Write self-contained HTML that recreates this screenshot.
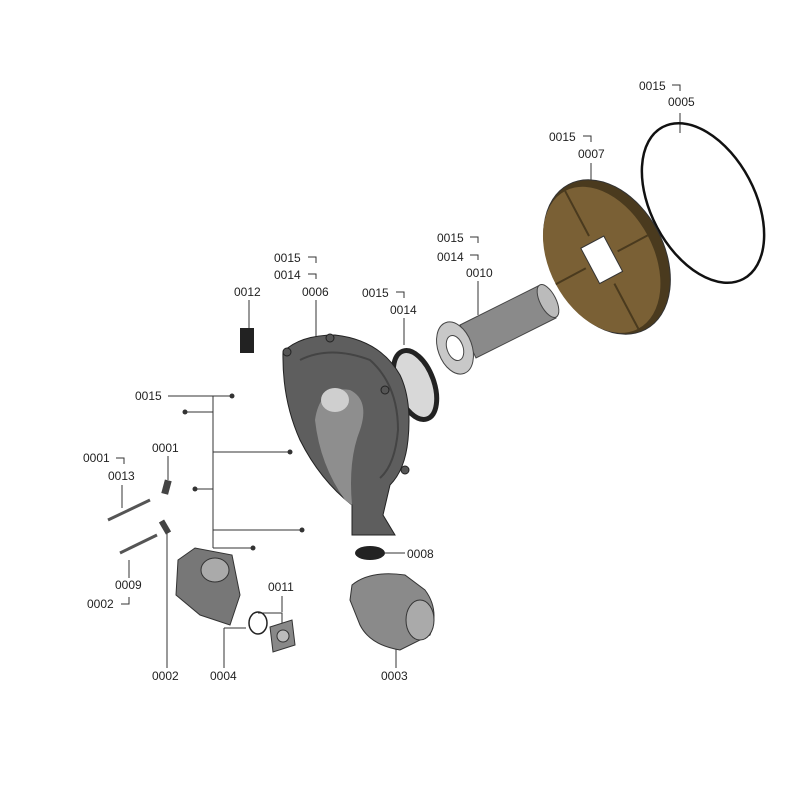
<!DOCTYPE html>
<html><head><meta charset="utf-8"><style>
html,body{margin:0;padding:0;background:#fff;width:800px;height:800px;overflow:hidden}
svg{display:block}
text{font-family:"Liberation Sans",sans-serif;font-size:12px;fill:#222}
</style></head><body>
<svg width="800" height="800" viewBox="0 0 800 800" xmlns="http://www.w3.org/2000/svg">
<g stroke="#333" stroke-width="1" fill="none">
<line x1="680" y1="113" x2="680" y2="133"/>
<polyline points="672,85 680,85 680,91"/>
<polyline points="583,136 591,136 591,142"/><line x1="591" y1="163" x2="591" y2="187"/>
<polyline points="470,237 478,237 478,243"/><polyline points="470,255 478,255 478,260"/><line x1="478" y1="281" x2="478" y2="315"/>
<polyline points="308,257 316,257 316,263"/><polyline points="308,274 316,274 316,279"/><line x1="316" y1="300" x2="316" y2="345"/>
<polyline points="396,292 404,292 404,298"/><line x1="404" y1="318" x2="404" y2="345"/>
<line x1="249" y1="300" x2="249" y2="328"/>
<line x1="168" y1="396" x2="232" y2="396"/>
<line x1="213" y1="396" x2="213" y2="548"/>
<line x1="185" y1="412" x2="213" y2="412"/>
<line x1="213" y1="452" x2="290" y2="452"/>
<line x1="195" y1="489" x2="213" y2="489"/>
<line x1="213" y1="530" x2="302" y2="530"/>
<line x1="213" y1="548" x2="253" y2="548"/>
<line x1="168" y1="456" x2="168" y2="480"/>
<polyline points="116,458 124,458 124,464"/><line x1="122" y1="485" x2="122" y2="508"/>
<line x1="129" y1="560" x2="129" y2="578"/><polyline points="121,604 129,604 129,597"/>
<line x1="167" y1="530" x2="167" y2="668"/>
<polyline points="224,628 224,668"/><polyline points="224,628 246,628"/>
<line x1="282" y1="596" x2="282" y2="612"/><polyline points="258,613 282,613 282,625"/>
<line x1="385" y1="553" x2="405" y2="553"/>
<line x1="396" y1="640" x2="396" y2="668"/>
</g>

<ellipse cx="703" cy="203" rx="52" ry="86" transform="rotate(-28 703 203)" fill="none" stroke="#111" stroke-width="2.5"/>
<g transform="rotate(-28 607 257)">
<ellipse cx="607" cy="257" rx="57" ry="82" fill="#4a3a1e" stroke="#333"/>
<ellipse cx="601" cy="257" rx="52" ry="78" fill="#7a6035"/>
<g stroke="#4a3a1e" stroke-width="2">
<line x1="601" y1="179" x2="601" y2="230"/><line x1="601" y1="284" x2="601" y2="335"/>
<line x1="549" y1="257" x2="583" y2="257"/><line x1="619" y1="257" x2="653" y2="257"/>
</g>
<rect x="588" y="237" width="26" height="40" fill="#fff" stroke="#333"/>
</g>
<polygon points="460,325 540,285 556,318 476,358" fill="#8a8a8a" stroke="#444"/>
<ellipse cx="548" cy="301" rx="8" ry="18" transform="rotate(-27 548 301)" fill="#bbb" stroke="#444"/>
<ellipse cx="455" cy="348" rx="17" ry="27" transform="rotate(-20 455 348)" fill="#c8c8c8" stroke="#444"/>
<ellipse cx="455" cy="348" rx="8" ry="13" transform="rotate(-20 455 348)" fill="#fff" stroke="#444"/>
<ellipse cx="415" cy="385" rx="19" ry="36" transform="rotate(-20 415 385)" fill="#d8d8d8" stroke="#222" stroke-width="5"/>
<!-- 0006 housing -->
<path d="M283,352 Q300,335 335,335 Q380,340 400,375 Q412,400 408,440 Q405,470 390,485 L383,515 L395,535 L352,535 L352,505 Q320,480 300,440 Q282,400 283,352 Z" fill="#5e5e5e" stroke="#222"/>
<path d="M300,360 Q330,345 370,360 Q398,385 398,430 Q395,465 380,478" fill="none" stroke="#444" stroke-width="2"/>
<path d="M315,420 Q320,385 350,390 Q370,400 360,430 Q348,460 352,505 L345,500 Q320,465 315,420 Z" fill="#8e8e8e"/>
<ellipse cx="335" cy="400" rx="14" ry="12" fill="#cfcfcf"/>
<g fill="#555" stroke="#222"><circle cx="287" cy="352" r="4"/><circle cx="330" cy="338" r="4"/><circle cx="385" cy="390" r="4"/><circle cx="405" cy="470" r="4"/></g>
<rect x="240" y="328" width="14" height="25" fill="#222"/>
<ellipse cx="370" cy="553" rx="15" ry="7" fill="#222"/>
<path d="M352,585 Q370,570 405,575 L425,590 Q440,610 430,635 L400,650 Q370,645 360,625 L350,600 Z" fill="#8a8a8a" stroke="#333"/>
<ellipse cx="420" cy="620" rx="14" ry="20" fill="#aaa" stroke="#333"/>
<path d="M178,560 L195,548 L232,555 L240,595 L230,625 L200,615 L176,595 Z" fill="#777" stroke="#333"/>
<ellipse cx="215" cy="570" rx="14" ry="12" fill="#aaa" stroke="#333"/>
<ellipse cx="258" cy="623" rx="9" ry="11" fill="none" stroke="#222" stroke-width="1.5"/>
<polygon points="270,627 292,620 295,645 273,652" fill="#888" stroke="#333"/>
<circle cx="283" cy="636" r="6" fill="#bbb" stroke="#333"/>
<g stroke="#555" stroke-width="3" fill="none">
<line x1="108" y1="520" x2="150" y2="500"/>
<line x1="120" y1="553" x2="157" y2="535"/>
</g>
<rect x="163" y="480" width="7" height="14" fill="#444" transform="rotate(15 166 487)"/>
<rect x="162" y="520" width="6" height="14" fill="#444" transform="rotate(-30 165 527)"/>
<g fill="#333">
<circle cx="232" cy="396" r="2.5"/><circle cx="185" cy="412" r="2.5"/><circle cx="290" cy="452" r="2.5"/>
<circle cx="195" cy="489" r="2.5"/><circle cx="302" cy="530" r="2.5"/><circle cx="253" cy="548" r="2.5"/>
</g>

<text x="639" y="90">0015</text><text x="668" y="106">0005</text>
<text x="549" y="141">0015</text><text x="578" y="158">0007</text>
<text x="437" y="242">0015</text><text x="437" y="261">0014</text><text x="466" y="277">0010</text>
<text x="274" y="262">0015</text><text x="274" y="279">0014</text><text x="302" y="296">0006</text>
<text x="362" y="297">0015</text><text x="390" y="314">0014</text>
<text x="234" y="296">0012</text>
<text x="135" y="400">0015</text>
<text x="83" y="462">0001</text><text x="108" y="480">0013</text>
<text x="152" y="452">0001</text>
<text x="407" y="558">0008</text>
<text x="268" y="591">0011</text>
<text x="115" y="589">0009</text><text x="87" y="608">0002</text>
<text x="152" y="680">0002</text><text x="210" y="680">0004</text><text x="381" y="680">0003</text>
</svg>
</body></html>
